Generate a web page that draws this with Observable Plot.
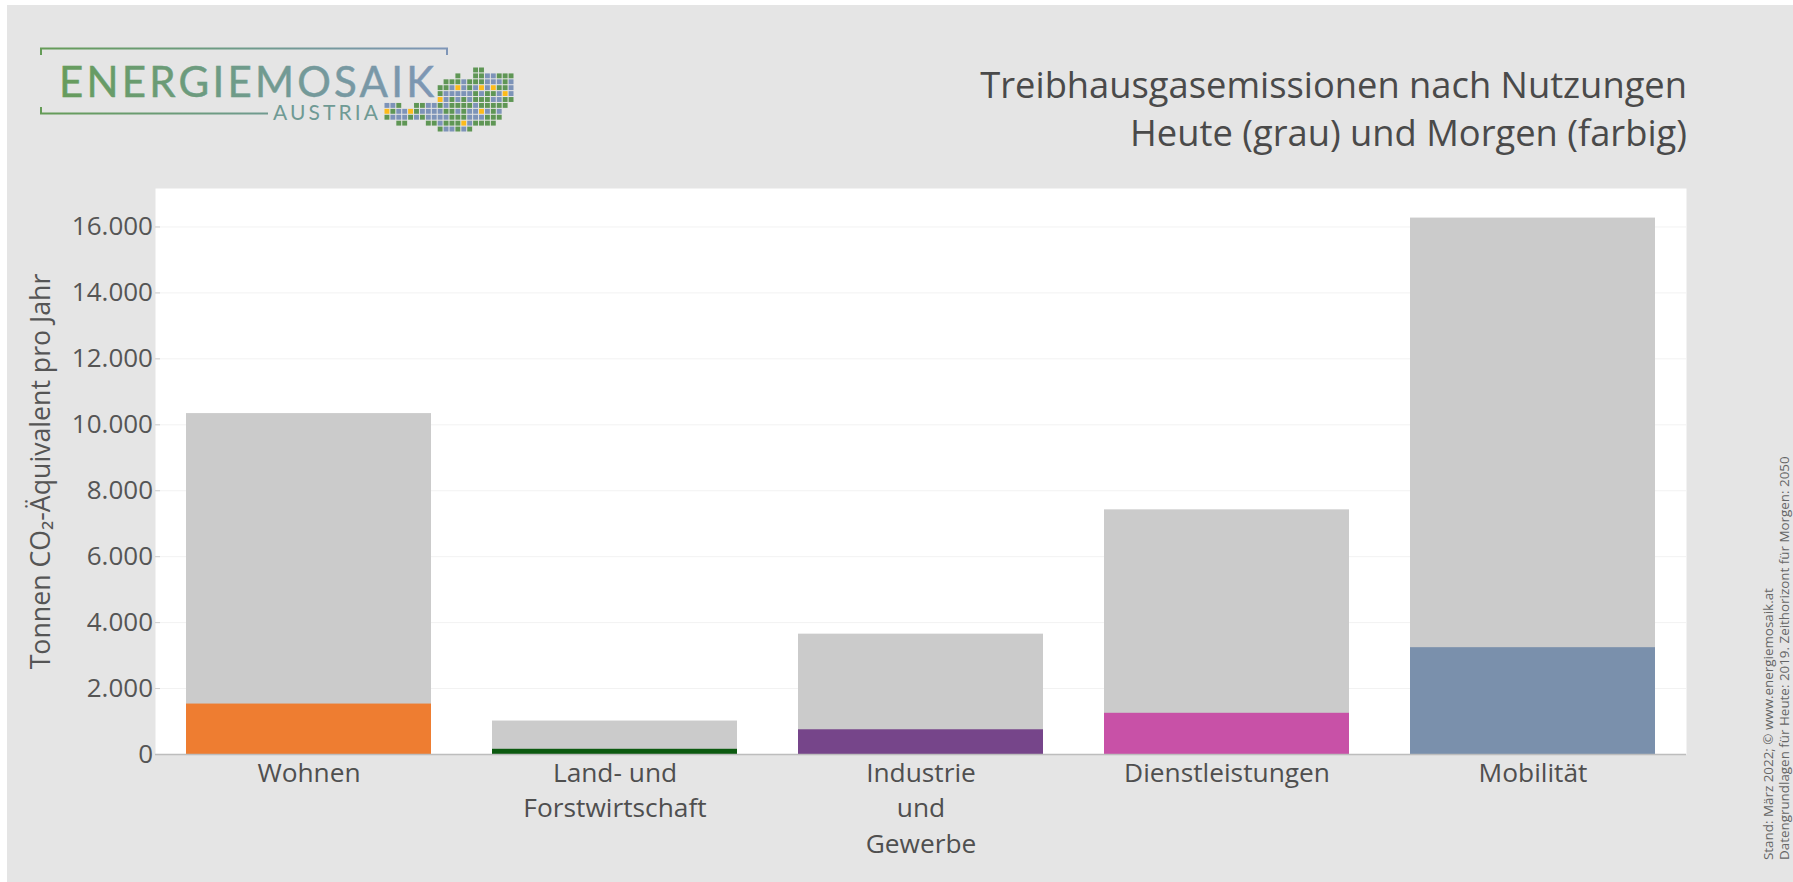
<!DOCTYPE html>
<html lang="de">
<head>
<meta charset="utf-8">
<script src="https://cdn.jsdelivr.net/npm/d3@7"></script>
<script src="https://cdn.jsdelivr.net/npm/@observablehq/plot@0.6"></script>
<style>
html,body{margin:0;padding:0;background:#fff;overflow:hidden;}
#page{position:absolute;left:0;top:0;width:1793px;height:882px;font-family:"Open Sans",sans-serif;}
#bg{position:absolute;left:7px;top:5px;width:1786px;height:877px;background:#e5e5e5;}
#logo{position:absolute;left:0;top:0;}
#mosaic{position:absolute;left:384px;top:67px;}
#chart{position:absolute;left:0;top:170px;}
#title{position:absolute;right:106px;top:60px;text-align:right;color:#4a4a4a;font-size:36.3px;line-height:48px;white-space:nowrap;}
#side{position:absolute;left:1793px;top:0;}
#side div{position:absolute;white-space:nowrap;color:#666;font-size:13.4px;line-height:16px;transform-origin:0 0;transform:rotate(-90deg);}
</style>
</head>
<body>
<div id="page">
  <div id="bg"></div>
  <svg id="logo" width="540" height="140" viewBox="0 0 540 140">
    <defs>
      <linearGradient id="lg" gradientUnits="userSpaceOnUse" x1="40" y1="0" x2="448" y2="0">
        <stop offset="0" stop-color="#659c57"/>
        <stop offset="0.5" stop-color="#6f9b8b"/>
        <stop offset="1" stop-color="#7f96b8"/>
      </linearGradient>
    </defs>
    <path d="M41 55V48.5H447V55" fill="none" stroke="url(#lg)" stroke-width="2"/>
    <path d="M41 107V113.500H268" fill="none" stroke="url(#lg)" stroke-width="2"/>
    <text x="59" y="97" font-family="Lato" font-size="42" fill="url(#lg)" stroke="url(#lg)" stroke-width="0.5" textLength="375" lengthAdjust="spacing">ENERGIEMOSAIK</text>
    <text x="273" y="120" font-family="Lato" font-size="21" fill="#6f9a94" textLength="105" lengthAdjust="spacing">AUSTRIA</text>
  </svg>
  <div id="mosaic"></div>
  <div id="title">Treibhausgasemissionen nach Nutzungen<br>Heute (grau) und Morgen (farbig)</div>
  <div id="chart"></div>
  <div id="side">
    <div style="left:-33px;top:860px;">Stand: März 2022; © www.energiemosaik.at</div>
    <div style="left:-17px;top:860px;">Datengrundlagen für Heute: 2019. Zeithorizont für Morgen: 2050</div>
  </div>
</div>
<script>
const categories = ["Wohnen", "Land- und\nForstwirtschaft", "Industrie\nund\nGewerbe", "Dienstleistungen", "Mobilität"];
const heute = [10340, 1015, 3650, 7420, 16270];
const morgen = [1530, 158, 750, 1250, 3240];
const farben = ["#ee7d31", "#0c5a10", "#76458a", "#c851a7", "#7a90ac"];
const yTicks = [0, 2000, 4000, 6000, 8000, 10000, 12000, 14000, 16000];
const yLabel = "Tonnen CO₂-Äquivalent pro Jahr";

const mosaicRows = [
  "               GG     ",
  "            G  GGBBGGG",
  "          GGGBGGGBBBGB",
  "         GGBYBGBYBYGGB",
  "         GBBBBBGBGGBYB",
  "         YBGBGBGGGBBGG",
  "BBG  GGBBGBGGGGBGGGGG ",
  "YGBBYGBBBBGGBGBBYBGB  ",
  "GBBBGBGBBBBGGGBBBGGG  ",
  "  GG   GGBGGGYBGGGG   ",
  "         GBBGBG       "
];
const mosaicColours = {G: "#5f9655", B: "#7d93b8", Y: "#fdbb1b"};

const heuteData = categories.map((c, i) => ({c, v: heute[i]}));
const morgenData = categories.map((c, i) => ({c, v: morgen[i], f: farben[i]}));
const fmt = d => d3.format(",")(d).replace(/,/g, ".");

const chart = Plot.plot({
  width: 1793,
  height: 712,
  marginLeft: 155,
  marginRight: 107,
  marginTop: 18,
  marginBottom: 128,
  style: {background: "transparent", fontFamily: "'Open Sans',sans-serif", color: "#4f4f4f"},
  x: {domain: categories, paddingInner: 0.2, paddingOuter: 0.1, align: 0.5, label: null},
  y: {domain: [0, 17167], label: null},
  color: {type: "identity"},
  marks: [
    Plot.frame({fill: "#fff", stroke: "none"}),
    Plot.ruleY(yTicks.slice(1), {stroke: "#f2f2f2", strokeWidth: 1}),
    Plot.axisY({ticks: yTicks, tickFormat: fmt, tickSize: -5, tickPadding: 7.5, stroke: "#cfcfcf", fontSize: 26, fill: "#555", label: null}),
    Plot.axisX({tickSize: 0, tickPadding: 2, fontSize: 26.3, lineHeight: 1.35, fill: "#4f4f4f", label: null}),
    Plot.barY(heuteData, {x: "c", y: "v", fill: "#cbcbcb"}),
    Plot.barY(morgenData, {x: "c", y: "v", fill: "f"}),
    Plot.ruleY([0], {stroke: "#bdbdbd", strokeWidth: 1.5}),
    Plot.text([yLabel], {frameAnchor: "left", textAnchor: "middle", dx: -114, rotate: -90, fontSize: 26.7, fill: "#555"})
  ]
});
document.getElementById("chart").appendChild(chart);

const cells = [];
mosaicRows.forEach((row, r) => [...row].forEach((k, c) => {
  if (mosaicColours[k]) cells.push({c, r, f: mosaicColours[k]});
}));
const mosaic = Plot.plot({
  width: 130,
  height: 65,
  margin: 0,
  style: {background: "transparent"},
  x: {domain: [0, 22], axis: null},
  y: {domain: [0, 11], reverse: true, axis: null},
  color: {type: "identity"},
  marks: [
    Plot.rect(cells, {x1: "c", x2: d => d.c + 1, y1: "r", y2: d => d.r + 1, fill: "f", inset: 0.5})
  ]
});
document.getElementById("mosaic").appendChild(mosaic);
</script>
</body>
</html>
